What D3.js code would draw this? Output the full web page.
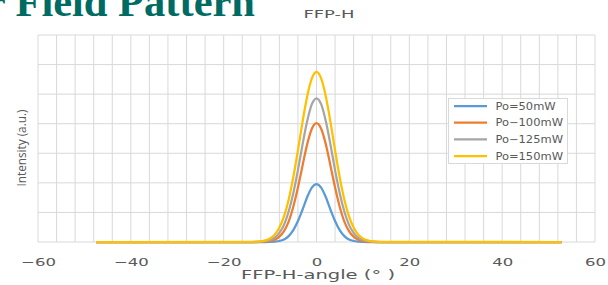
<!DOCTYPE html>
<html>
<head>
<meta charset="utf-8">
<script src="https://cdn.jsdelivr.net/npm/d3@7"></script>
<style>
  body { margin: 0; background: #fff; }
  svg { display: block; }
</style>
</head>
<body>
<div id="chart"></div>
<script>
// angles (degrees)
var angles = [-47.5, -14, -13, -12, -11, -10, -9, -8, -7, -6, -5, -4, -3, -2, -1, 0,
              1, 2, 3, 4, 5, 6, 7, 8, 9, 10, 11, 12, 13, 14, 52.8];

var po50  = [0, 0, 0, 0, 0, 0.003, 0.011, 0.033, 0.086, 0.20, 0.40, 0.71, 1.10, 1.52, 1.84, 1.96,
             1.84, 1.52, 1.10, 0.71, 0.40, 0.20, 0.086, 0.033, 0.011, 0.003, 0, 0, 0, 0, 0];
var po100 = [0, 0, 0, 0.004, 0.011, 0.031, 0.077, 0.18, 0.37, 0.69, 1.19, 1.84, 2.59, 3.31, 3.83, 4.02,
             3.83, 3.31, 2.59, 1.84, 1.19, 0.69, 0.37, 0.18, 0.077, 0.031, 0.011, 0.004, 0, 0, 0];
var po125 = [0, 0, 0.003, 0.01, 0.026, 0.064, 0.15, 0.31, 0.58, 1.03, 1.65, 2.43, 3.30, 4.09, 4.66, 4.86,
             4.66, 4.09, 3.30, 2.43, 1.65, 1.03, 0.58, 0.31, 0.15, 0.064, 0.026, 0.01, 0.003, 0, 0];
var po150 = [0, 0.003, 0.009, 0.022, 0.054, 0.12, 0.25, 0.49, 0.87, 1.43, 2.19, 3.10, 4.07, 4.93, 5.53, 5.75,
             5.53, 4.93, 4.07, 3.10, 2.19, 1.43, 0.87, 0.49, 0.25, 0.12, 0.054, 0.022, 0.009, 0.003, 0];

var seriesNames = ["Po=50mW", "Po\u2212100mW", "Po\u2212125mW", "Po=150mW"];
var seriesColors = ["#5B9BD5", "#ED7D31", "#A5A5A5", "#FFC000"];
var xTicks = [-60, -40, -20, 0, 20, 40, 60];

var width = 608, height = 285;
var margin = {left: 38, right: 13, top: 35, bottom: 43};

var svg = d3.select("#chart").append("svg")
    .attr("width", width)
    .attr("height", height);

var x = d3.scaleLinear().domain([-60, 60]).range([margin.left, width - margin.right]);
var y = d3.scaleLinear().domain([0, 7]).range([height - margin.bottom, margin.top]);

// slide title, cut off at the top left like in the picture
svg.append("text")
    .attr("x", 255).attr("y", 16)
    .attr("text-anchor", "end")
    .style("font-family", "'Liberation Serif', serif")
    .style("font-weight", "bold")
    .style("font-size", "42.5px")
    .style("fill", "#006B63")
    .text("Far Field Pattern");

// chart title
svg.append("text")
    .attr("x", 329).attr("y", 18)
    .attr("text-anchor", "middle")
    .attr("textLength", 51)
    .attr("lengthAdjust", "spacingAndGlyphs")
    .style("font-family", "'DejaVu Sans', sans-serif")
    .style("font-size", "10px")
    .style("fill", "#595959")
    .text("FFP-H");

// grid
var grid = svg.append("g");
grid.selectAll(".vg")
    .data(d3.range(-60, 61, 4))
    .enter().append("line")
    .attr("x1", function(d) { return x(d); })
    .attr("x2", function(d) { return x(d); })
    .attr("y1", y(0)).attr("y2", y(7))
    .attr("stroke", "#d9d9d9");
grid.selectAll(".hg")
    .data(d3.range(0, 8, 1))
    .enter().append("line")
    .attr("x1", x(-60)).attr("x2", x(60))
    .attr("y1", function(d) { return y(d); })
    .attr("y2", function(d) { return y(d); })
    .attr("stroke", "#d9d9d9");

// x axis
var xAxis = svg.append("g")
    .attr("transform", "translate(0," + y(0) + ")")
    .call(d3.axisBottom(x).tickValues(xTicks).tickSize(0).tickPadding(16).tickFormat(d3.format("d")));
xAxis.select(".domain").remove();
xAxis.selectAll("text")
    .attr("transform", "scale(1.5,1)")
    .style("font-family", "'DejaVu Sans', sans-serif")
    .style("font-size", "11px")
    .style("fill", "#595959");

svg.append("text")
    .attr("x", 318).attr("y", 279)
    .attr("text-anchor", "middle")
    .attr("textLength", 154)
    .attr("lengthAdjust", "spacingAndGlyphs")
    .style("font-family", "'DejaVu Sans', sans-serif")
    .style("font-size", "12px")
    .style("fill", "#595959")
    .text("FFP-H-angle (°   )");

svg.append("text")
    .attr("transform", "translate(26,148) rotate(-90)")
    .attr("text-anchor", "middle")
    .attr("textLength", 77)
    .attr("lengthAdjust", "spacingAndGlyphs")
    .style("font-family", "'Open Sans', sans-serif")
    .style("font-size", "13px")
    .style("fill", "#595959")
    .text("Intensity (a.u.)");

// curves
var allSeries = [po50, po100, po125, po150];
var line = d3.line()
    .x(function(d, i) { return x(angles[i]); })
    .y(function(d) { return y(d); })
    .curve(d3.curveMonotoneX);

svg.selectAll(".curve")
    .data(allSeries)
    .enter().append("path")
    .attr("fill", "none")
    .attr("stroke", function(d, i) { return seriesColors[i]; })
    .attr("stroke-width", 2.25)
    .attr("stroke-linejoin", "round")
    .attr("d", line);

// legend
var legend = svg.append("g");
legend.append("rect")
    .attr("x", 448.5).attr("y", 98.5)
    .attr("width", 119).attr("height", 65)
    .attr("fill", "#fff")
    .attr("stroke", "#d9d9d9");
var item = legend.selectAll(".item")
    .data(seriesNames)
    .enter().append("g")
    .attr("transform", function(d, i) { return "translate(454," + (106 + i * 16.7) + ")"; });
item.append("line")
    .attr("x1", 0).attr("x2", 33)
    .attr("stroke", function(d, i) { return seriesColors[i]; })
    .attr("stroke-width", 2.25);
item.append("text")
    .attr("x", 36).attr("y", 3.5)
    .attr("transform", "scale(1.15,1)")
    .style("font-family", "'DejaVu Sans', sans-serif")
    .style("font-size", "10px")
    .style("fill", "#595959")
    .text(function(d) { return d; });
</script>
</body>
</html>
